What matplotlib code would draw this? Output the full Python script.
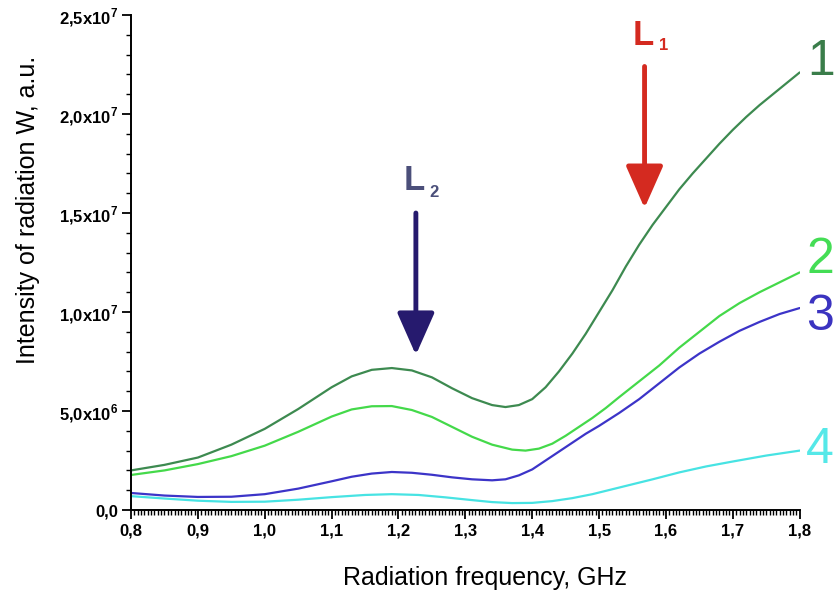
import matplotlib
matplotlib.use("Agg")
import matplotlib.pyplot as plt
from matplotlib.ticker import MultipleLocator, FixedLocator, FixedFormatter
import numpy as np

plt.rcParams['font.family'] = ['Liberation Sans', 'DejaVu Sans']
plt.rcParams['mathtext.fontset'] = 'custom'
plt.rcParams['mathtext.rm'] = 'Liberation Sans'
plt.rcParams['mathtext.bf'] = 'Liberation Sans:bold'

# curve values, intensity in units of 1e6
freq_1 = [0.80, 0.85, 0.90, 0.95, 1.00, 1.05, 1.10, 1.13, 1.16, 1.19, 1.22, 1.25,
          1.28, 1.31, 1.34, 1.36, 1.38, 1.40, 1.42, 1.44, 1.46, 1.48, 1.50, 1.52,
          1.54, 1.56, 1.58, 1.60, 1.62, 1.64, 1.66, 1.68, 1.70, 1.72, 1.74, 1.76,
          1.78, 1.80]
curve_1 = [2.0, 2.28, 2.65, 3.3, 4.1, 5.1, 6.2, 6.75, 7.08, 7.17, 7.05, 6.7,
           6.15, 5.65, 5.3, 5.2, 5.3, 5.6, 6.2, 7.0, 7.9, 8.9, 10.0, 11.1,
           12.3, 13.4, 14.4, 15.3, 16.2, 17.0, 17.75, 18.5, 19.2, 19.85, 20.45, 21.0,
           21.55, 22.1]

freq_2 = [0.80, 0.85, 0.90, 0.95, 1.00, 1.05, 1.10, 1.13, 1.16, 1.19, 1.22, 1.25,
          1.28, 1.31, 1.34, 1.37, 1.39, 1.41, 1.43, 1.45, 1.47, 1.49, 1.51, 1.53,
          1.56, 1.59, 1.62, 1.65, 1.68, 1.71, 1.74, 1.77, 1.80]
curve_2 = [1.77, 2.0, 2.32, 2.72, 3.25, 3.95, 4.72, 5.08, 5.24, 5.25, 5.05, 4.7,
           4.2, 3.7, 3.3, 3.05, 3.0, 3.1, 3.35, 3.75, 4.2, 4.65, 5.15, 5.7,
           6.5, 7.3, 8.2, 9.0, 9.8, 10.45, 11.0, 11.5, 12.0]

freq_3 = [0.80, 0.85, 0.90, 0.95, 1.00, 1.05, 1.10, 1.13, 1.16, 1.19, 1.22, 1.25,
          1.28, 1.31, 1.34, 1.36, 1.38, 1.40, 1.42, 1.44, 1.46, 1.48, 1.50, 1.53,
          1.56, 1.59, 1.62, 1.65, 1.68, 1.71, 1.74, 1.77, 1.80]
curve_3 = [0.86, 0.73, 0.66, 0.67, 0.8, 1.08, 1.45, 1.68, 1.84, 1.92, 1.88, 1.78,
           1.65, 1.55, 1.5, 1.55, 1.75, 2.05, 2.5, 2.95, 3.4, 3.85, 4.25, 4.9,
           5.6, 6.4, 7.2, 7.9, 8.5, 9.05, 9.5, 9.9, 10.2]

freq_4 = [0.80, 0.85, 0.90, 0.95, 1.00, 1.05, 1.10, 1.15, 1.19, 1.23, 1.27, 1.31,
          1.34, 1.37, 1.40, 1.43, 1.46, 1.49, 1.52, 1.55, 1.58, 1.62, 1.66, 1.70,
          1.75, 1.80]
curve_4 = [0.7, 0.58, 0.47, 0.41, 0.42, 0.52, 0.65, 0.76, 0.8, 0.76, 0.64, 0.5,
           0.4, 0.35, 0.36, 0.45, 0.6, 0.8, 1.05, 1.3, 1.55, 1.9, 2.2, 2.45,
           2.75, 3.0]

x_ticks = [0.8, 0.9, 1.0, 1.1, 1.2, 1.3, 1.4, 1.5, 1.6, 1.7, 1.8]
x_labels = ["0,8", "0,9", "1,0", "1,1", "1,2", "1,3", "1,4", "1,5", "1,6", "1,7", "1,8"]
y_ticks = [0, 5e6, 1e7, 1.5e7, 2e7, 2.5e7]
y_labels = ["0,0", r"5,0x10$^{\mathbf{6}}$", r"1,0x10$^{\mathbf{7}}$",
            r"1,5x10$^{\mathbf{7}}$", r"2,0x10$^{\mathbf{7}}$", r"2,5x10$^{\mathbf{7}}$"]

colors = ["#3d8a50", "#44d94a", "#3c34c8", "#47e3e3"]
label_colors = ["#3a7d4a", "#44dd55", "#3b33c0", "#55e8e8"]

fig = plt.figure(figsize=(8.4, 6.01), dpi=100)
ax = fig.add_axes([0.156, 0.1514, 0.796, 0.8236])

series = [(freq_1, curve_1), (freq_2, curve_2), (freq_3, curve_3), (freq_4, curve_4)]
for (f, v), c in zip(series, colors):
    ax.plot(f, np.array(v) * 1e6, color=c, lw=1.6, solid_capstyle='round',
            solid_joinstyle='round')

ax.set_xlim(0.8, 1.8)
ax.set_ylim(0, 2.5e7)
for s in ["top", "right"]:
    ax.spines[s].set_visible(False)
for s in ["left", "bottom"]:
    ax.spines[s].set_linewidth(1.4)

ax.xaxis.set_major_locator(FixedLocator(x_ticks))
ax.xaxis.set_major_formatter(FixedFormatter(x_labels))
ax.xaxis.set_minor_locator(MultipleLocator(0.005))
ax.yaxis.set_major_locator(FixedLocator(y_ticks))
ax.yaxis.set_major_formatter(FixedFormatter(y_labels))
ax.yaxis.set_minor_locator(MultipleLocator(1e6))
ax.tick_params(which='major', direction='out', length=6.5, width=1.3, labelsize=12, pad=3)
ax.tick_params(which='minor', direction='out', length=3.5, width=1.0)
for lab in ax.get_xticklabels() + ax.get_yticklabels():
    lab.set_fontweight('bold')

fig.text(28 / 840, 1 - 210 / 601, "Intensity of radiation W, a.u.", rotation=90,
         ha='center', va='center', fontsize=18)
fig.text(485 / 840, 1 - 578 / 601, "Radiation frequency, GHz",
         ha='center', va='center', fontsize=18)

# arrows marking L1 and L2
ax.annotate("", xy=(1.568, 15.25e6), xytext=(1.568, 22.4e6),
            arrowprops=dict(arrowstyle='-|>,head_length=2.6,head_width=1.15',
                            mutation_scale=10, lw=3.5, color="#d42a20",
                            shrinkA=0, shrinkB=0))
ax.annotate("", xy=(1.226, 7.83e6), xytext=(1.226, 15.0e6),
            arrowprops=dict(arrowstyle='-|>,head_length=2.6,head_width=1.15',
                            mutation_scale=10, lw=3.5, color="#261a6e",
                            shrinkA=0, shrinkB=0))
ax.text(1.55, 23.48e6, "L", color="#d42a20", fontsize=25, fontweight='bold',
        ha='left', va='baseline', clip_on=False)
ax.text(1.59, 23.23e6, "1", color="#d42a20", fontsize=12, fontweight='bold',
        ha='left', va='baseline', clip_on=False)
ax.text(1.2077, 16.16e6, "L", color="#4b4f7a", fontsize=25, fontweight='bold',
        ha='left', va='baseline')
ax.text(1.246, 15.8e6, "2", color="#4b4f7a", fontsize=12, fontweight='bold',
        ha='left', va='baseline')

# curve numbers at the right end
num_pos = [(1.812, 21.97e6), (1.810, 11.97e6), (1.810, 9.09e6), (1.809, 2.37e6)]
for i, ((x, y), c) in enumerate(zip(num_pos, label_colors)):
    ax.text(x, y, str(i + 1), color=c, fontsize=36, ha='left', va='baseline',
            clip_on=False)

fig.savefig("out.png", dpi=100, facecolor='white')
